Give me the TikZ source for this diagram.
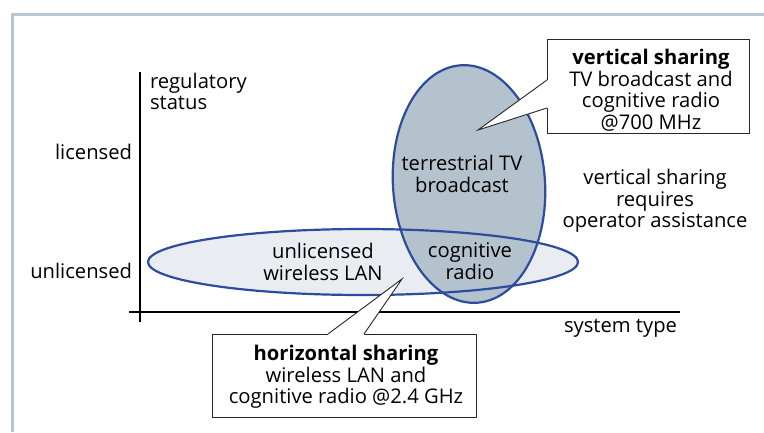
\documentclass[tikz,border=0pt]{standalone}
\usepackage{fontspec}
\setmainfont{Open Sans}
\usetikzlibrary{shapes.geometric,calc}
\definecolor{framecol}{HTML}{B8C6D3}
\definecolor{ringblue}{HTML}{2E4C9E}
\definecolor{lightfill}{HTML}{E9EDF2}
\definecolor{greyfill}{HTML}{B4C2CD}
\begin{document}
\begin{tikzpicture}[x=1pt,y=-1pt,
  every node/.style={inner sep=0pt, outer sep=0pt},
  txt/.style={font=\fontsize{20.2}{21.5}\selectfont, align=center, text=black},
  ring/.style={draw=ringblue, line width=2.2pt},
  axis/.style={line width=1.3pt, black},
  callbox/.style={draw=black!85, line width=0.9pt, fill=white},
  pointer/.style={draw=black!85, line width=0.9pt, line join=miter}]
\useasboundingbox (0,0) rectangle (764,432);
\fill[white] (0,0) rectangle (764,432);
\draw[framecol, line width=2.6pt] (12.5,432) -- (12.5,14.5) -- (764,14.5);

% axes
\coordinate (yt) at (140,72);
\coordinate (yb) at (140,322);
\coordinate (xl) at (129,312);
\coordinate (xr) at (680,312);
\draw[axis] (yt) -- (yb);
\draw[axis] (xl) -- (xr);

% ellipses
\node[ellipse, fill=lightfill, minimum width=430pt, minimum height=66pt] (hz) at (363,262) {};
\node[ellipse, fill=greyfill, minimum width=152pt, minimum height=238pt, rotate=4] (vt) at (469,184) {};
\draw[ring, rotate around={4:(vt.center)}] (vt.center) ellipse [x radius=76, y radius=119];
\draw[ring] (hz.center) ellipse [x radius=215, y radius=33];

% axis labels
\node[txt, align=left, anchor=north west] (reg) at (150,73) {regulatory\\status};
\node[txt, anchor=east] (lic) at (132,152) {licensed};
\node[txt, anchor=east] (unlic) at (132,271) {unlicensed};
\node[txt, anchor=east] (sys) at (677,328) {system type};

% ellipse texts
\node[txt] (wlan) at (323,262) {unlicensed\\wireless LAN};
\node[txt] (ttv) at (462,174) {terrestrial TV\\broadcast};
\node[txt] (cr) at (470,261) {cognitive\\radio};
\node[txt] (req) at (655,201) {vertical sharing\\requires\\operator assistance};

% callout vertical
\node[callbox, minimum width=202pt, minimum height=94pt] (vbox) at (648,86) {};
\coordinate (vtip) at (478,130);
\coordinate (va) at ($(vbox.north west)+(0,41)$);
\coordinate (vb) at ($(vbox.north west)+(0,69)$);
\fill[white] ($(va)+(1.5,0)$) -- (va) -- (vtip) -- (vb) -- ($(vb)+(1.5,0)$) -- cycle;
\draw[pointer] (va) -- (vtip) -- (vb);
\node[txt] (vtxt) at (651,90) {\textbf{vertical sharing}\\TV broadcast and\\cognitive radio\\@700 MHz};

% callout horizontal
\node[callbox, minimum width=264pt, minimum height=83pt] (hbox) at (344,375.5) {};
\coordinate (htip) at (402,279);
\coordinate (ha) at ($(hbox.north west)+(116,0)$);
\coordinate (hb) at ($(hbox.north west)+(152,0)$);
\fill[white] ($(ha)+(0,1.5)$) -- (ha) -- (htip) -- (hb) -- ($(hb)+(0,1.5)$) -- cycle;
\draw[pointer] (ha) -- (htip) -- (hb);
\node[txt] (htxt) at (346,377) {\textbf{horizontal sharing}\\wireless LAN and\\cognitive radio @2.4 GHz};
\end{tikzpicture}
\end{document}
